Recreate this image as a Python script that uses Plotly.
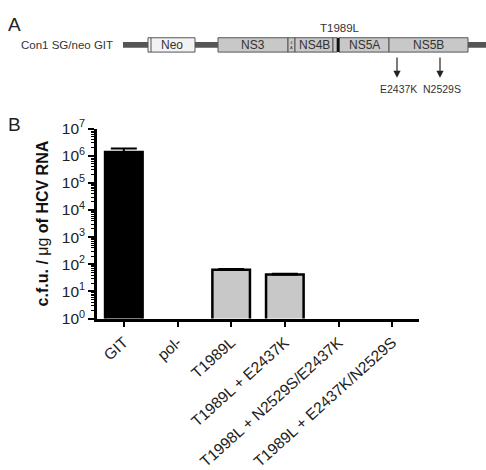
import plotly.graph_objects as go

# ---- Data (panel B) ----
categories = ["GIT", "pol-", "T1989L", "T1989L + E2437K",
              "T1998L + N2529S/E2437K", "T1989L + E2437K/N2529S"]
values = [1.35e6, None, 63, 42, None, None]
err_plus = [0.5e6, 0, 4, 3, 0, 0]
bar_colors = ["#000000", "#c8c8c8", "#c8c8c8", "#c8c8c8", "#c8c8c8", "#c8c8c8"]
ytick_exp = [0, 1, 2, 3, 4, 5, 6, 7]

# ---- Schematic (panel A), in diagram units ----
genes = ["Neo", "NS3", "", "NS4B", "", "NS5A", "NS5B"]
gene_start = [148, 218, 288, 295, 333, 339, 389]
gene_end = [195, 288, 295, 333, 337, 389, 468]
gene_fill = ["#f2f2f2", "#c8c8c8", "#c8c8c8", "#c8c8c8", "#c8c8c8", "#c8c8c8", "#c8c8c8"]
mutations_below = ["E2437K", "N2529S"]
mutation_pos = [397, 440]

W, H = 486, 470
FONT = "Arial, Liberation Sans, sans-serif"

fig = go.Figure()
fig.add_trace(go.Bar(
    x=categories, y=values, width=0.7,
    marker=dict(color=bar_colors, line=dict(color="black", width=2.5)),
    error_y=dict(type="data", symmetric=False, array=err_plus,
                 arrayminus=[0] * 6, color="black", thickness=2, width=13),
    xaxis="x", yaxis="y", showlegend=False,
))

# invisible trace to activate diagram axes
fig.add_trace(go.Scatter(x=[0], y=[0], xaxis="x2", yaxis="y2",
                         mode="markers", marker=dict(opacity=0),
                         showlegend=False, hoverinfo="skip"))

shapes = []
shapes.append(dict(type="rect", xref="x2", yref="y2", x0=123, x1=486, y0=32.5, y1=38.5,
                   fillcolor="#555555", line=dict(width=0), layer="below"))
for g, s, e, f in zip(genes, gene_start, gene_end, gene_fill):
    shapes.append(dict(type="rect", xref="x2", yref="y2", x0=s, x1=e, y0=28, y1=43,
                       fillcolor=f, line=dict(color="#555555", width=1)))
shapes.append(dict(type="line", xref="x2", yref="y2", x0=151, x1=151, y0=28, y1=43,
                   line=dict(color="#555555", width=1)))
shapes.append(dict(type="rect", xref="x2", yref="y2", x0=337, x1=339.5, y0=28, y1=43,
                   fillcolor="#111111", line=dict(width=0)))

annotations = []
for g, s, e in zip(genes, gene_start, gene_end):
    if g:
        annotations.append(dict(xref="x2", yref="y2", x=(s + e) / 2, y=36, text=g,
                                showarrow=False, font=dict(size=12, color="#333", family=FONT)))
annotations.append(dict(xref="x2", yref="y2", x=291.5, y=36, text="4<br>A",
                        showarrow=False, font=dict(size=4, color="#333", family=FONT)))
annotations.append(dict(xref="x2", yref="y2", x=115, y=36, text="Con1 SG/neo GIT",
                        xanchor="right", showarrow=False,
                        font=dict(size=11.5, color="#333", family=FONT)))
annotations.append(dict(xref="x2", yref="y2", x=340, y=18, text="T1989L",
                        showarrow=False, font=dict(size=11.5, color="#333", family=FONT)))
for m, p in zip(mutations_below, mutation_pos):
    annotations.append(dict(xref="x2", yref="y2", x=p, y=70, ax=p, ay=47,
                            axref="x2", ayref="y2", text="", showarrow=True,
                            arrowhead=2, arrowsize=1.2, arrowwidth=1.2, arrowcolor="#222"))
    annotations.append(dict(xref="x2", yref="y2", x=p + 1.5, y=82, text=m,
                            showarrow=False, font=dict(size=10.5, color="#333", family=FONT)))
annotations.append(dict(xref="x2", yref="y2", x=6, y=14, text="A", xanchor="left",
                        showarrow=False, font=dict(size=19, color="#222", family=FONT)))
annotations.append(dict(xref="x2", yref="y2", x=6, y=119, text="B", xanchor="left",
                        showarrow=False, font=dict(size=19, color="#222", family=FONT)))

fig.update_layout(
    width=W, height=H, margin=dict(l=0, r=0, t=0, b=0),
    paper_bgcolor="white", plot_bgcolor="rgba(0,0,0,0)",
    font=dict(family=FONT, color="#222"),
    shapes=shapes, annotations=annotations,
    xaxis=dict(domain=[97 / W, 419 / W], anchor="y", range=[-0.5, 5.5],
               showline=True, linecolor="black", linewidth=2.5,
               ticks="outside", ticklen=6, tickwidth=2, tickcolor="black",
               tickangle=-42, tickfont=dict(size=15.5, color="#222"),
               showgrid=False, zeroline=False),
    yaxis=dict(domain=[(H - 322) / H, (H - 123) / H], anchor="x", type="log",
               range=[0, 7], showline=True, linecolor="black", linewidth=2.5,
               ticks="outside", ticklen=6, tickwidth=2, tickcolor="black",
               tickvals=[10 ** e for e in ytick_exp],
               ticktext=["10<sup>%d</sup>" % e for e in ytick_exp],
               tickfont=dict(size=15.5, color="#222"),
               minor=dict(ticks="outside", ticklen=3, tickwidth=1, tickcolor="black",
                          dtick="D1", showgrid=False),
               showgrid=False, zeroline=False,
               title=dict(text="<b>c.f.u. / </b>μg<b> of HCV RNA</b>",
                          font=dict(size=16, color="#111"), standoff=10)),
    xaxis2=dict(domain=[0, 1], anchor="y2", range=[0, W], visible=False, fixedrange=True),
    yaxis2=dict(domain=[0, 1], anchor="x2", range=[H, 0], visible=False,
                fixedrange=True),
)

fig.write_html("out.html")
